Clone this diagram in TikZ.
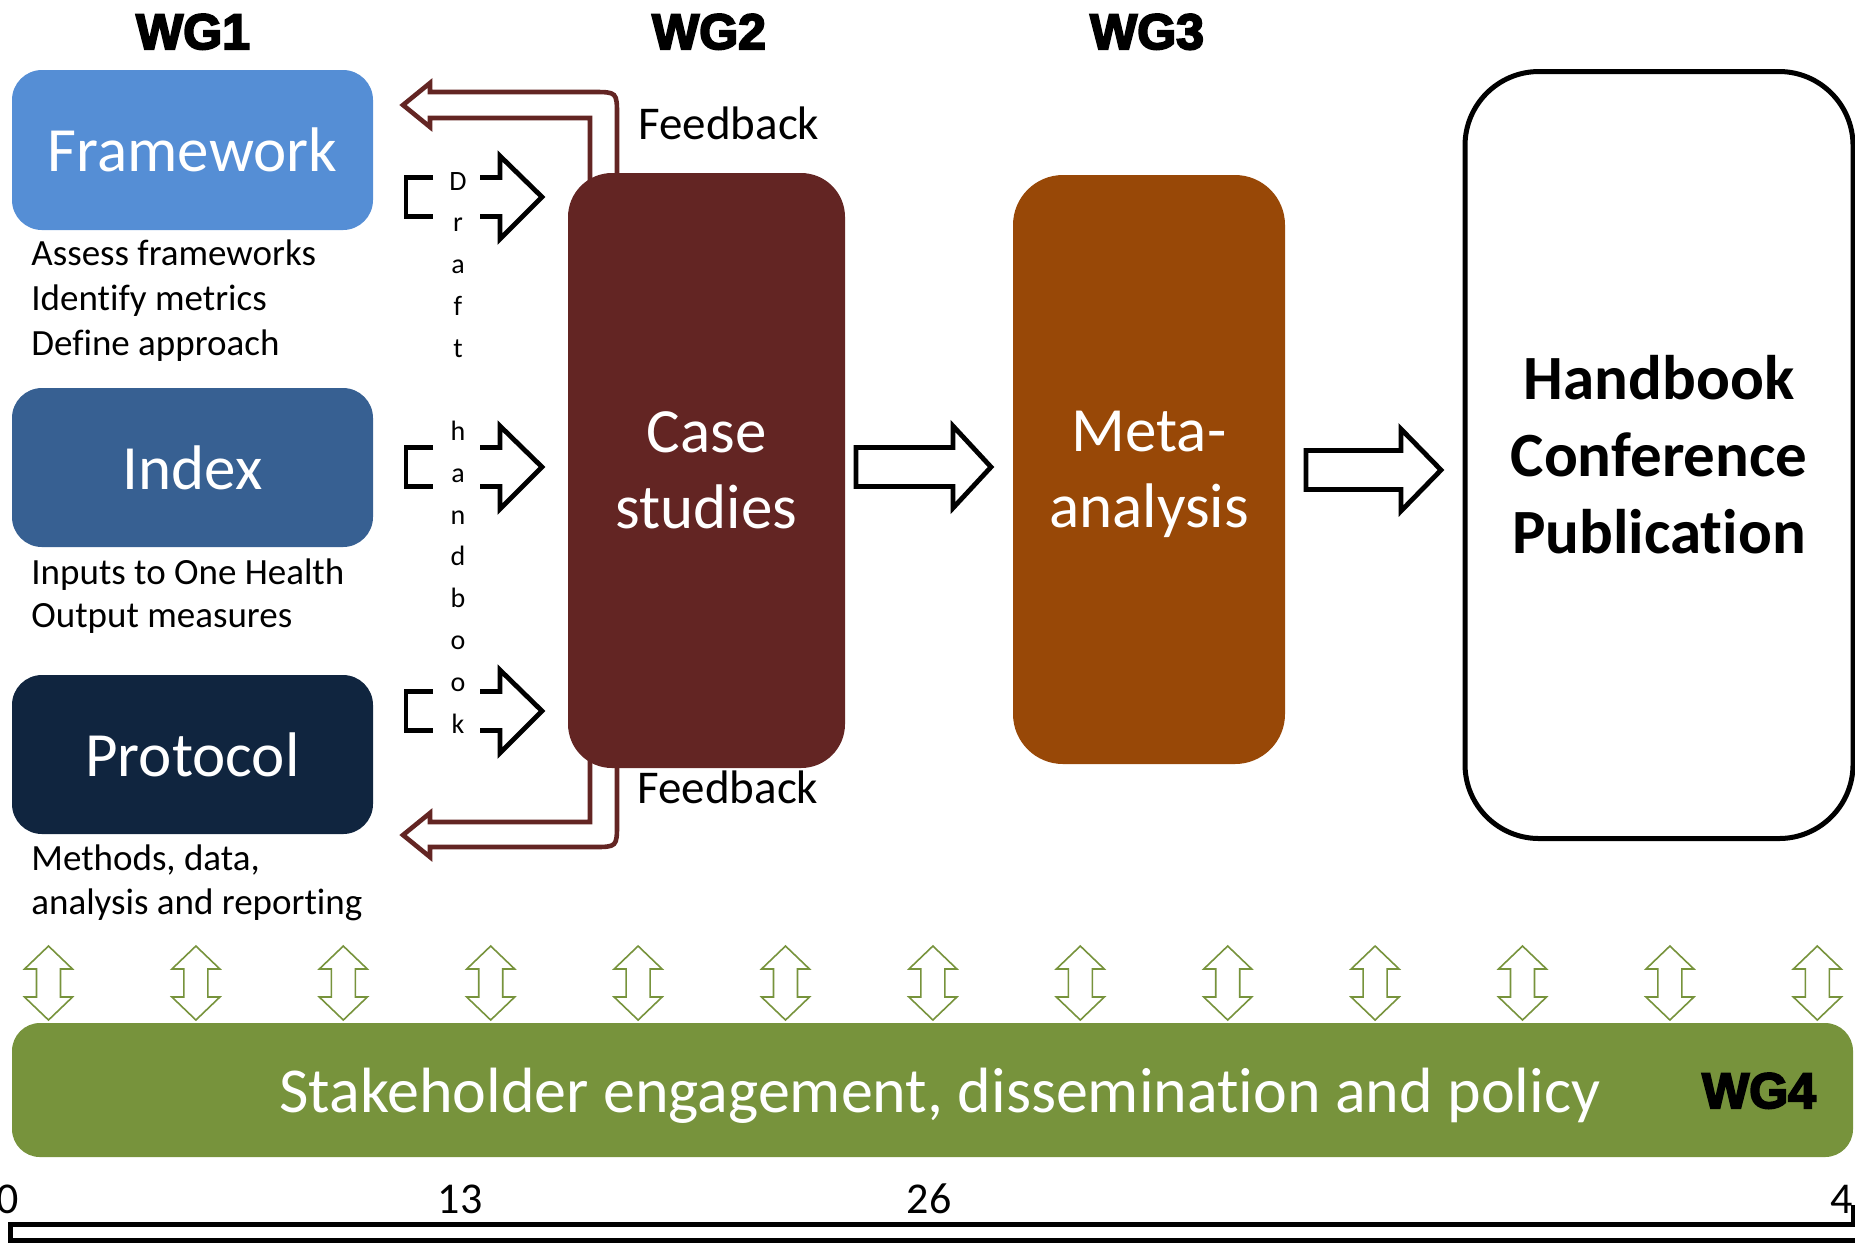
\documentclass[tikz,border=0pt]{standalone}
\usepackage{fontspec}
\setmainfont{Carlito}[Ligatures={NoCommon}]
\newfontfamily\wgfont{Liberation Sans}[FakeBold=4]
\definecolor{fwblue}{HTML}{558ED5}
\definecolor{ixblue}{HTML}{376092}
\definecolor{prnavy}{HTML}{10253F}
\definecolor{casered}{HTML}{632523}
\definecolor{metaorange}{HTML}{984807}
\definecolor{olive}{HTML}{77933C}
\tikzset{
  wg/.style={font=\wgfont\bfseries\fontsize{25}{30}\selectfont, anchor=base, inner sep=0pt},
  wgbox/.style={rounded corners=15pt, minimum width=180.5pt, minimum height=80pt, text=white, inner sep=0pt, font=\fontsize{31.5}{38}\selectfont},
  tallbox/.style={text=white, inner sep=0pt, align=center, font=\fontsize{31.5}{38}\selectfont},
  sub/.style={anchor=base west, inner sep=0pt, font=\fontsize{18.5}{22}\selectfont},
  letter/.style={anchor=base, inner sep=0pt, font=\fontsize{14}{16}\selectfont},
  fbtext/.style={anchor=base west, inner sep=0pt, font=\fontsize{23.5}{28}\selectfont},
  fbarrow/.style={draw=casered, line width=2.3pt},
  draftarrow/.style={draw=black, line width=2.4pt},
  blockarrow/.style={draw=black, fill=white, line width=2.4pt},
  greenarrow/.style={draw=olive, fill=white, line width=0.8pt},
  tick/.style={anchor=base, inner sep=0pt, font=\fontsize{22}{26}\selectfont}
}
\begin{document}
\begin{tikzpicture}[x={(0.5pt,0pt)}, y={(0pt,-0.5pt)}]
\useasboundingbox (0,0) rectangle (1855,1250);
\clip (0,0) rectangle (1855,1250);

% WG headers
\node[wg] (wg1) at (193,49) {WG1};
\node[wg] (wg2) at (709,49) {WG2};
\node[wg] (wg3) at (1147,49) {WG3};

% feedback arrows (drawn before the case box)
\draw[fbarrow] (590,200) -- (590,118) -- (430,118) -- (430,127) -- (403,105) -- (430,83) -- (430,92) -- (593,92) .. controls (617,92) .. (617,116) -- (617,200);
\draw[fbarrow] (590,740) -- (590,822) -- (430,822) -- (430,813) -- (403,835) -- (430,857) -- (430,847) -- (593,847) .. controls (617,847) .. (617,823) -- (617,740);

% WG1 boxes
\node[wgbox, fill=fwblue] (framework) at (192.5,150) {Framework};
\node[wgbox, fill=ixblue, minimum height=79.5pt] (index) at (192.5,467.5) {Index};
\node[wgbox, fill=prnavy, minimum height=79.5pt] (protocol) at (192.5,754.5) {Protocol};

\node[sub] (s1) at (31,265) {Assess frameworks};
\node[sub] (s2) at (31,310) {Identify metrics};
\node[sub] (s3) at (31,355) {Define approach};
\node[sub] (s4) at (31,584) {Inputs to One Health};
\node[sub] (s5) at (31,627) {Output measures};
\node[sub] (s6) at (31,870) {Methods, data,};
\node[sub] (s7) at (31,914) {analysis and reporting};

% draft handbook arrows
\foreach \c in {197,467,711}{
  \draw[draftarrow] (433,\c-19.5) -- (406,\c-19.5) -- (406,\c+19.5) -- (433,\c+19.5);
  \draw[draftarrow] (480,\c-19.5) -- (500,\c-19.5) -- (500,\c-41) -- (542,\c) -- (500,\c+42) -- (500,\c+19.5) -- (480,\c+19.5);
}
\foreach \ch [count=\i from 0] in {D,r,a,f,t,{},h,a,n,d,b,o,o,k}{
  \node[letter] (dl\i) at (458,190+41.77*\i) {\ch};
}

% case studies & meta-analysis
\node[tallbox, fill=casered, rounded corners=22pt, minimum width=138.5pt, minimum height=297.5pt] (case) at (706.5,470.5) {Case\\studies};
\node[tallbox, fill=metaorange, rounded corners=25pt, minimum width=136pt, minimum height=294.5pt] (meta) at (1149,469.5) {Meta-\\\smash{analysis}};
\node[draw=black, line width=2.5pt, rounded corners=37pt, minimum width=194pt, minimum height=383.5pt, inner sep=0pt, align=center, font=\bfseries\fontsize{31.5}{38.5}\selectfont] (hb) at (1659,455) {Handbook\\Conference\\Publication};

\node[fbtext] (fbtop) at (638,139) {Feedback};
\node[fbtext] (fbbot) at (637,803) {Feedback};

% block arrows
\draw[blockarrow] (856,447.5) -- (953,447.5) -- (953,426) -- (991,467) -- (953,508) -- (953,486.5) -- (856,486.5) -- cycle;
\draw[blockarrow] (1306,450.5) -- (1401,450.5) -- (1401,429) -- (1441,470) -- (1401,511) -- (1401,489.5) -- (1306,489.5) -- cycle;

% green double arrows
\foreach \i in {0,...,12}{
  \pgfmathsetmacro\gx{48.5+147.4*\i}
  \draw[greenarrow] (\gx,946) -- (\gx+24,969) -- (\gx+12,969) -- (\gx+12,997) -- (\gx+24,997) -- (\gx,1020) -- (\gx-24,997) -- (\gx-12,997) -- (\gx-12,969) -- (\gx-24,969) -- cycle;
}

% stakeholder bar
\node[fill=olive, rounded corners=14pt, minimum width=920.5pt, minimum height=67pt, inner sep=0pt] (bar) at (932.5,1090) {};
\node[anchor=base, inner sep=0pt, text=white, font=\fontsize{32}{38}\selectfont] (stake) at (940,1112) {Stakeholder engagement, dissemination and policy};
\node[wg] (wg4) at (1759,1108) {WG4};

% timeline
\node[tick] (t0) at (8,1213) {0};
\node[tick] (t13) at (460,1213) {13};
\node[tick] (t26) at (929,1213) {26};
\node[tick] (t4) at (1842,1213) {4};
\draw[line width=2.5pt] (1870,1240.5) -- (10,1240.5) -- (10,1224.5) -- (1853,1224.5) -- (1853,1205);
\end{tikzpicture}
\end{document}
